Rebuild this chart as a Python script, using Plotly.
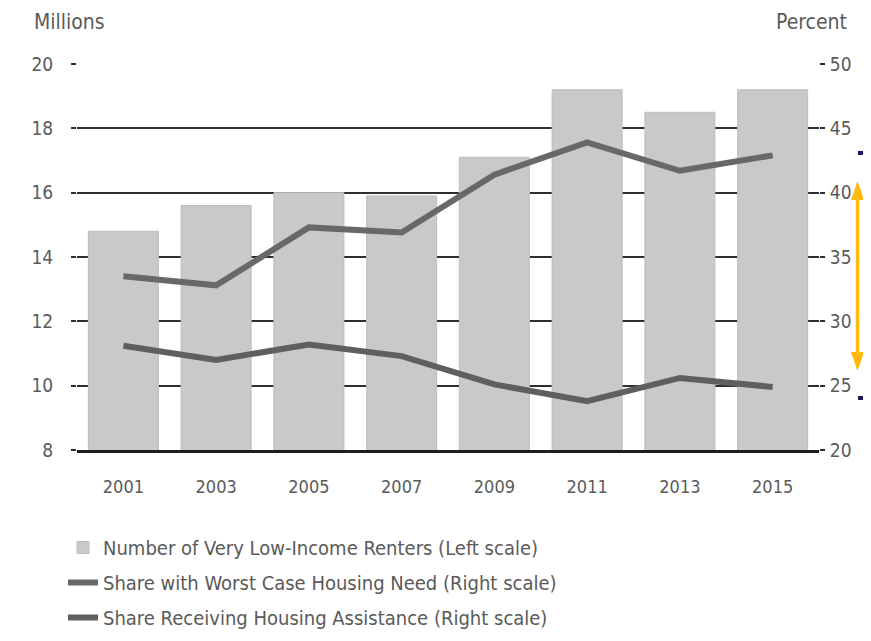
import plotly.graph_objects as go

# ---- data ----
years = ["2001", "2003", "2005", "2007", "2009", "2011", "2013", "2015"]
renters_millions = [14.8, 15.6, 16.0, 15.9, 17.1, 19.2, 18.5, 19.2]
worst_case_pct = [33.5, 32.8, 37.3, 36.9, 41.4, 43.9, 41.7, 42.9]
assisted_pct = [28.1, 27.0, 28.2, 27.3, 25.1, 23.8, 25.6, 24.9]
left_ticks = [8, 10, 12, 14, 16, 18, 20]
right_ticks = [20, 25, 30, 35, 40, 45, 50]

FONT = "DejaVu Sans Condensed, DejaVu Sans, sans-serif"
TXT = "#5a5a5a"
GRID = "#2e2e2e"

fig = go.Figure()
fig.add_trace(go.Bar(
    x=years, y=renters_millions, yaxis="y",
    name="Number of Very Low-Income Renters (Left scale)",
    marker=dict(color="#c9c9c9", line=dict(color="#bdbdbd", width=1)),
    legendgroup="a",
))
fig.add_trace(go.Scatter(
    x=years, y=worst_case_pct, yaxis="y2", mode="lines",
    name="Share with Worst Case Housing Need (Right scale)",
    line=dict(color="#686868", width=6),
    legendgroup="b",
))
fig.add_trace(go.Scatter(
    x=years, y=assisted_pct, yaxis="y2", mode="lines",
    name="Share Receiving Housing Assistance (Right scale)",
    line=dict(color="#5f5f5f", width=6),
    legendgroup="c",
))

W, H = 871, 641
OFF = 8  # page body margin
# plot area in screen pixels: x 77..819, y 64..450
L = 77 - OFF
T = 64 - OFF
R = W - (819 - OFF)
B = H - (450 - OFF)
pw = W - L - R
ph = H - T - B


def px_x(x):
    return (x - OFF - L) / pw


def px_y(y):
    return 1 - (y - OFF - T) / ph


ORANGE = "#FFB90F"
NAVY = "#1b1b5a"
AX = 857.5
shapes = [
    dict(type="line", xref="paper", yref="paper",
         x0=px_x(AX), x1=px_x(AX), y0=px_y(196), y1=px_y(356),
         line=dict(color=ORANGE, width=3.5)),
    dict(type="path", xref="paper", yref="paper",
         path=f"M {px_x(AX)} {px_y(181)} L {px_x(AX - 6.5)} {px_y(200)} L {px_x(AX + 6.5)} {px_y(200)} Z",
         fillcolor=ORANGE, line=dict(width=0)),
    dict(type="path", xref="paper", yref="paper",
         path=f"M {px_x(AX)} {px_y(371)} L {px_x(AX - 6.5)} {px_y(352)} L {px_x(AX + 6.5)} {px_y(352)} Z",
         fillcolor=ORANGE, line=dict(width=0)),
    dict(type="rect", xref="paper", yref="paper",
         x0=px_x(858), x1=px_x(863), y0=px_y(155), y1=px_y(151),
         fillcolor=NAVY, line=dict(width=0)),
    dict(type="rect", xref="paper", yref="paper",
         x0=px_x(858), x1=px_x(863), y0=px_y(400), y1=px_y(396),
         fillcolor=NAVY, line=dict(width=0)),
]

fig.update_layout(
    width=W, height=H,
    margin=dict(l=L, r=R, t=T, b=B, autoexpand=False),
    paper_bgcolor="white", plot_bgcolor="white",
    font=dict(family=FONT, color=TXT, size=19),
    bargap=0.245,
    showlegend=True,
    legend=dict(x=px_x(63), y=px_y(528), xanchor="left", yanchor="top",
                font=dict(size=20, color=TXT), tracegroupgap=6,
                bgcolor="rgba(0,0,0,0)"),
    xaxis=dict(type="category", showgrid=False, showline=True,
               linecolor="#1e1e1e", linewidth=3, ticks="",
               tickfont=dict(size=18, color=TXT), ticklabelstandoff=18),
    yaxis=dict(range=[8, 20], tickvals=left_ticks, showgrid=True,
               gridcolor=GRID, gridwidth=2, zeroline=False, showline=False,
               ticks="outside", ticklen=5, tickwidth=2, tickcolor=GRID,
               tickfont=dict(size=19, color=TXT), ticklabelstandoff=14),
    yaxis2=dict(range=[20, 50], tickvals=right_ticks, overlaying="y", side="right",
                showgrid=False, zeroline=False, showline=False,
                ticks="outside", ticklen=5, tickwidth=2, tickcolor=GRID,
                tickfont=dict(size=19, color=TXT), ticklabelstandoff=1),
    shapes=shapes,
    annotations=[
        dict(text="Millions", xref="paper", yref="paper", x=px_x(32), y=px_y(22),
             xanchor="left", yanchor="middle", showarrow=False,
             font=dict(size=21, color=TXT)),
        dict(text="Percent", xref="paper", yref="paper", x=px_x(849), y=px_y(22),
             xanchor="right", yanchor="middle", showarrow=False,
             font=dict(size=21, color=TXT)),
    ],
)

fig.write_html("out.html")
